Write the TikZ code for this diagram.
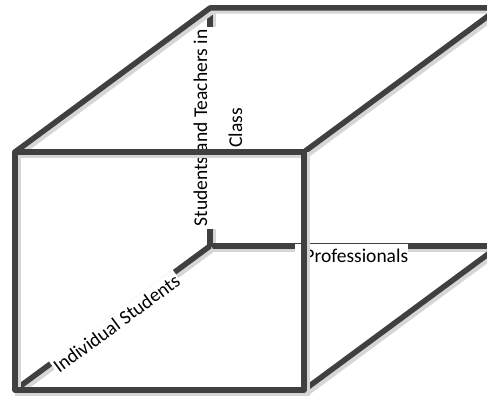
\documentclass[tikz,border=0pt]{standalone}
\usepackage{fontspec}
\setmainfont{Carlito}
\definecolor{edgegray}{HTML}{404040}
\definecolor{shadowgray}{HTML}{D6D6D6}
\tikzset{
  cubeedge/.style={draw=edgegray, line width=5.5pt, line join=round,
    preaction={draw=shadowgray, line width=5.5pt, transform canvas={xshift=3pt,yshift=-3pt}}},
  lbl/.style={fill=white, inner sep=3pt, font=\fontsize{19.5}{35}\selectfont, text=black}
}
\begin{document}
\begin{tikzpicture}[x=1pt,y=-1pt]
\useasboundingbox (0,0) rectangle (487,396);
\clip (0,0) rectangle (487,396);
% corners
\coordinate (A) at (15,152);
\coordinate (B) at (304,152);
\coordinate (C) at (304,390);
\coordinate (D) at (15,390);
\coordinate (E) at (210,8);
\coordinate (F) at (499,8);
\coordinate (G) at (499,246);
\coordinate (H) at (210,246);
% hidden edges
\draw[cubeedge] (E) -- (H);
\draw[cubeedge] (H) -- (G);
\draw[cubeedge] (D) -- (H);
% labels
\node[lbl, rotate=90, align=center] (tl) at (218,128) {Students and Teachers in\\Class};
\node[lbl, anchor=base west, inner xsep=0pt, inner ysep=4pt, text width=113pt, align=right] (pl) at (295,262) {Professionals};
\node[lbl, anchor=base, rotate=36.4, inner xsep=1pt] (il) at (120.5,328.8) {Individual Students};
% visible edges
\draw[cubeedge] (A) -- (E) -- (F);
\draw[cubeedge] (B) -- (F) -- (G) -- (C);
\draw[cubeedge] (A) -- (B) -- (C) -- (D) -- cycle;
\end{tikzpicture}
\end{document}
